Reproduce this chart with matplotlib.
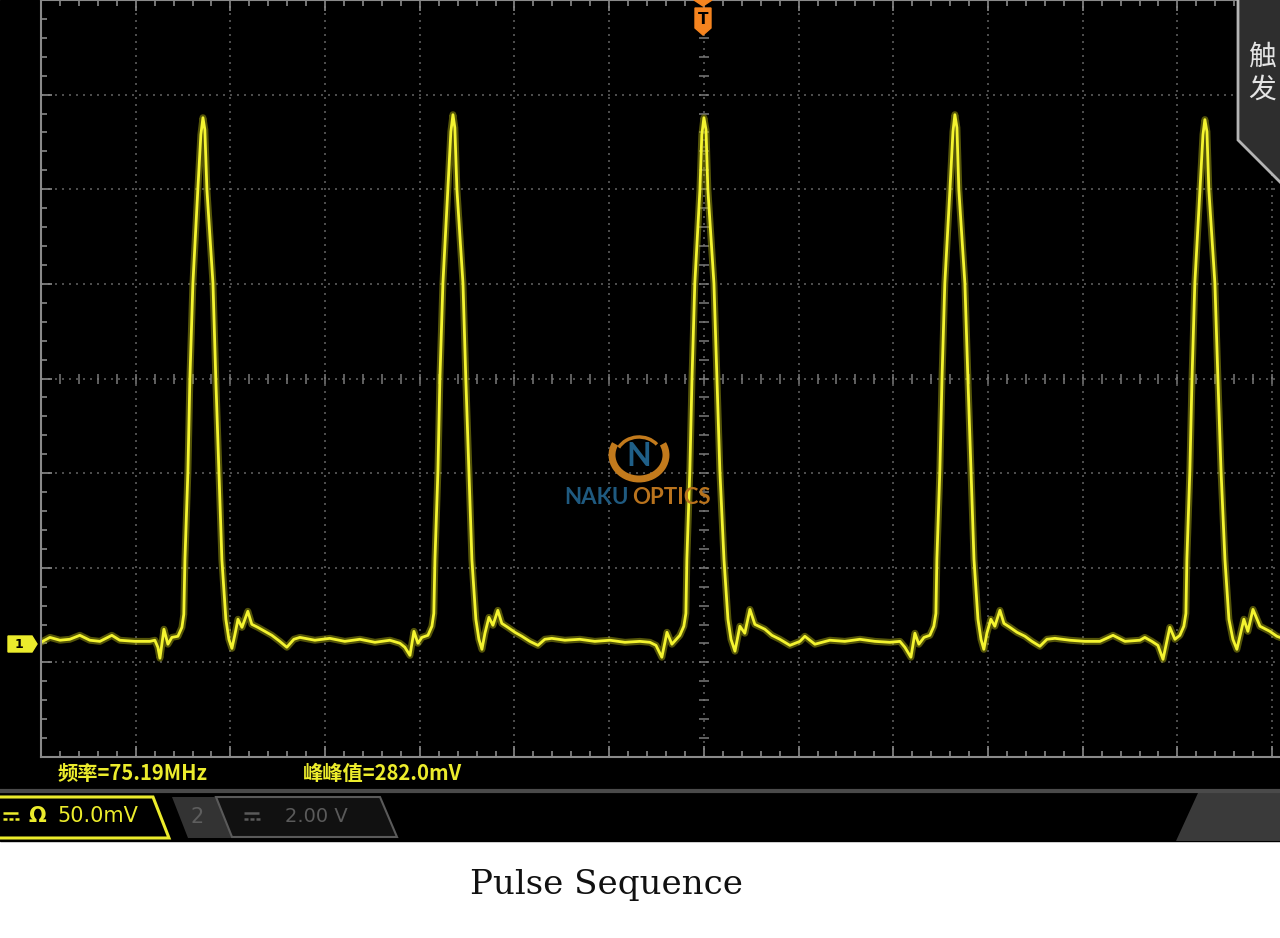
import numpy as np
import matplotlib.pyplot as plt
from matplotlib.patches import Polygon, Rectangle, Arc

# Channel 1 trace: time in ns (trigger at 0), voltage in mV
trace_t = [
    # baseline before pulse 1
    -35.01, -34.53, -34.00, -33.48, -32.95, -32.42, -31.89, -31.26, -30.84, -30.04,
    -29.25, -28.99, -28.83, -28.72, -28.51, -28.30, -28.09, -27.77, -27.56, -27.46,
    # pulse 1
    -27.40, -27.24, -27.14, -26.98, -26.72, -26.56, -26.45, -26.35, -26.24, -25.92,
    -25.77, -25.61, -25.45, -25.24, -25.08, -24.92, -24.76, -24.60, -24.39, -24.08,
    -23.87, -23.55, -23.18, -22.81, -22.39, -22.02, -21.65, -21.33,
    # baseline
    -20.54, -19.75, -18.96, -18.16, -17.37, -16.58, -16.05, -15.79, -15.52, -15.31,
    -15.10, -14.89, -14.57, -14.36, -14.26,
    # pulse 2
    -14.20, -14.04, -13.94, -13.78, -13.52, -13.36, -13.25, -13.15, -13.04, -12.72,
    -12.57, -12.41, -12.25, -12.04, -11.88, -11.72, -11.56, -11.35, -11.14, -10.88,
    -10.67, -10.35, -9.98, -9.61, -9.19, -8.76, -8.40, -8.03,
    # baseline
    -7.34, -6.55, -5.76, -4.96, -4.17, -3.38, -2.85, -2.53, -2.22, -1.95,
    -1.69, -1.27, -1.06, -0.95,
    # pulse 3 (trigger)
    -0.90, -0.74, -0.63, -0.48, -0.21, -0.11, 0.00, 0.11, 0.21, 0.53,
    0.69, 0.84, 1.06, 1.27, 1.43, 1.64, 1.90, 2.16, 2.43, 2.69,
    3.22, 3.59, 4.01, 4.54, 5.07, 5.33, 5.86,
    # baseline
    6.65, 7.44, 8.24, 9.03, 9.82, 10.35, 10.61, 10.93, 11.14, 11.35,
    11.62, 11.93, 12.14, 12.25,
    # pulse 4
    12.30, 12.46, 12.57, 12.72, 12.99, 13.15, 13.25, 13.36, 13.46, 13.78,
    13.94, 14.10, 14.26, 14.47, 14.63, 14.78, 14.94, 15.15, 15.36, 15.63,
    15.84, 16.16, 16.53, 16.95, 17.32, 17.74, 18.11, 18.53,
    # baseline
    19.32, 20.12, 20.91, 21.60, 22.23, 23.02, 23.28, 23.65, 23.97, 24.24,
    24.60, 24.87, 25.13, 25.34, 25.45,
    # pulse 5
    25.50, 25.66, 25.77, 25.92, 26.19, 26.35, 26.45, 26.56, 26.66, 26.98,
    27.14, 27.30, 27.51, 27.72, 27.93, 28.14, 28.51, 28.72, 28.99, 29.36,
    29.88, 30.25, 30.68,
]
trace_v = [
    -139.4, -136.8, -138.3, -137.8, -135.7, -138.3, -138.9, -135.7, -138.3, -138.9,
    -138.9, -138.3, -142.0, -147.8, -132.5, -140.4, -136.8, -136.2, -131.5, -124.6,
    -95.6, -48.0, -0.5, 50.2, 99.8, 128.8, 137.8, 131.5, 99.8, 50.2,
    -0.5, -48.0, -95.6, -127.2, -137.8, -142.6, -135.2, -127.2, -131.5, -123.0,
    -129.9, -131.5, -133.6, -135.7, -138.9, -142.0, -137.8, -136.8,
    -138.3, -137.3, -138.9, -137.8, -139.4, -138.3, -139.9, -142.0, -146.3, -133.6,
    -139.9, -136.8, -135.7, -130.9, -124.1,
    -95.6, -48.0, -0.5, 50.2, 99.8, 130.4, 139.4, 132.5, 99.8, 50.2,
    -0.5, -48.0, -95.6, -127.2, -137.8, -143.1, -134.6, -126.2, -130.4, -122.5,
    -129.4, -131.5, -134.1, -136.2, -138.9, -141.0, -137.8, -137.3,
    -138.3, -137.8, -138.9, -138.3, -139.4, -138.9, -139.4, -141.0, -147.3, -134.1,
    -140.4, -135.7, -130.9, -124.1,
    -95.6, -48.0, -0.5, 50.2, 99.8, 128.8, 137.8, 131.5, 99.8, 50.2,
    -0.5, -48.0, -95.6, -127.2, -137.8, -144.1, -130.9, -134.6, -122.0, -129.9,
    -132.5, -135.7, -137.8, -141.0, -138.9, -136.2, -140.4,
    -138.3, -138.9, -137.8, -138.9, -139.4, -138.9, -142.0, -147.3, -134.6, -140.4,
    -136.8, -135.7, -130.9, -124.1,
    -95.6, -48.0, -0.5, 50.2, 99.8, 130.4, 139.4, 132.5, 99.8, 50.2,
    -0.5, -48.0, -95.6, -127.2, -137.8, -143.1, -134.6, -127.2, -130.9, -122.5,
    -129.4, -131.5, -134.1, -136.2, -138.9, -141.5, -137.8, -137.3,
    -138.3, -138.9, -138.9, -135.7, -138.9, -138.3, -136.8, -138.9, -141.0, -148.4,
    -131.5, -137.8, -135.7, -130.9, -124.1,
    -95.6, -48.0, -0.5, 50.2, 99.8, 128.8, 136.8, 130.4, 99.8, 50.2,
    -0.5, -48.0, -95.6, -127.2, -137.8, -143.1, -127.2, -133.6, -122.0, -130.9,
    -133.6, -136.2, -137.8,
]

freq_label = '频率=75.19MHz'
vpp_label = '峰峰值=282.0mV'
ch1_scale = '50.0mV'
ch2_scale = '2.00 V'
trigger_tab = ['触', '发']
caption = 'Pulse Sequence'

CJK = ['Noto Sans CJK SC', 'DejaVu Sans']
YEL = '#ecec2c'
W, H = 1280, 938

fig = plt.figure(figsize=(12.8, 9.38), dpi=100, facecolor='white')

# background layer (pixel coordinates)
bg = fig.add_axes([0, 0, 1, 1], zorder=0)
bg.set_xlim(0, W)
bg.set_ylim(H, 0)
bg.axis('off')
bg.add_patch(Rectangle((0, 0), W, 841, color='black'))
bg.plot([0, W], [791, 791], color='#4a4a4a', lw=3, solid_capstyle='butt')

bg.text(58, 774, freq_label, color=YEL, fontsize=14.6, fontweight='bold',
        family=CJK, va='center', ha='left')
bg.text(303, 774, vpp_label, color=YEL, fontsize=14.6, fontweight='bold',
        family=CJK, va='center', ha='left')


def dc_symbol(x0, y0, color):
    # direct-current sign: solid bar over a dashed bar (no font has the glyph)
    bg.plot([x0, x0 + 15], [y0 - 3, y0 - 3], color=color, lw=1.8, solid_capstyle='butt')
    for k in range(3):
        bg.plot([x0 + k * 6, x0 + k * 6 + 3.5], [y0 + 3, y0 + 3], color=color, lw=1.8,
                solid_capstyle='butt')


# channel 1 box
bg.add_patch(Polygon([(-5, 797), (153, 797), (169, 838), (-5, 838)],
                     closed=True, facecolor='black', edgecolor=YEL, lw=2.2))
dc_symbol(3, 816, YEL)
bg.text(37, 816, 'Ω', color=YEL, fontsize=15, fontweight='bold', va='center', ha='center')
bg.text(57, 816, ch1_scale, color=YEL, fontsize=15, va='center', ha='left')

# channel 2 box (inactive)
bg.add_patch(Polygon([(172, 797), (216, 797), (232, 838), (188, 838)],
                     closed=True, facecolor='#333333', edgecolor='none'))
bg.text(197, 817, '2', color='#5e5e5e', fontsize=15, va='center', ha='center')
bg.add_patch(Polygon([(216, 797), (380, 797), (397, 837), (232, 837)],
                     closed=True, facecolor='#111111', edgecolor='#5a5a5a', lw=1.5))
dc_symbol(244, 816, '#5a5a5a')
bg.text(285, 816, ch2_scale, color='#5a5a5a', fontsize=14, va='center', ha='left')

bg.add_patch(Polygon([(1198, 793), (W, 793), (W, 841), (1176, 841)],
                     closed=True, facecolor='#3a3a3a', edgecolor='none'))

fig.text(606 / W, 1 - 885 / H, caption, ha='center', va='center',
         fontsize=24.5, family='DejaVu Serif', color='#111111')

# scope screen: 5 ns/div, 50 mV/div, 14 x 8 divisions
div_px = 94.7
ax = fig.add_axes([41 / W, 1 - 757 / H, 14 * div_px / W, 757 / H], zorder=1)
ax.set_facecolor('black')
ax.set_xlim(-35, 35)
ax.set_ylim(-200, 200)
ax.set_xticks(np.arange(-35, 36, 5))
ax.set_yticks(np.arange(-200, 201, 50))
ax.set_xticks(np.arange(-35, 36, 1), minor=True)
ax.set_yticks(np.arange(-200, 201, 10), minor=True)
ax.grid(True, which='major', color='#5c5c5c', ls=(0, (1.2, 3)), lw=1.2)
ax.tick_params(which='both', direction='in', colors='#8a8a8a', width=1.2,
               top=True, bottom=True, left=True, right=False,
               labelbottom=False, labelleft=False)
ax.tick_params(which='major', length=8)
ax.tick_params(which='minor', length=4.5)
for side in ['left', 'bottom', 'top']:
    ax.spines[side].set_color('#8a8a8a')
    ax.spines[side].set_linewidth(1.5)
ax.spines['right'].set_visible(False)

minor_t = np.arange(-35, 36, 1)
minor_v = np.arange(-200, 201, 10)
ax.plot(minor_t, np.zeros(len(minor_t)), ls='none', marker='|', ms=7,
        mew=1.1, color='#7a7a7a')
ax.plot(np.zeros(len(minor_v)), minor_v, ls='none', marker='_', ms=7,
        mew=1.1, color='#7a7a7a')

# trace with phosphor glow
ax.plot(trace_t, trace_v, color='#a8a810', lw=5, alpha=0.5,
        solid_joinstyle='round', solid_capstyle='round')
ax.plot(trace_t, trace_v, color='#f4f430', lw=2.0,
        solid_joinstyle='round', solid_capstyle='round')

# overlay layer: markers, trigger tab, watermark
ov = fig.add_axes([0, 0, 1, 1], zorder=3)
ov.set_xlim(0, W)
ov.set_ylim(H, 0)
ov.axis('off')
ov.patch.set_alpha(0)

ORANGE = '#f5841f'
ov.add_patch(Polygon([(694, 0), (712, 0), (703, 6)], closed=True, color=ORANGE))
ov.add_patch(Polygon([(695, 8), (711, 8), (711, 28), (703, 35), (695, 28)],
                     closed=True, color=ORANGE))
ov.text(703, 19, 'T', color='black', fontsize=11, fontweight='bold',
        ha='center', va='center')

ov.add_patch(Polygon([(8, 636), (32, 636), (37, 644), (32, 652), (8, 652)],
                     closed=True, color=YEL))
ov.text(19, 644, '1', color='black', fontsize=9, fontweight='bold',
        ha='center', va='center')

ov.add_patch(Polygon([(1238, -3), (1238, 140), (1283, 185), (1283, -3)],
                     closed=True, facecolor='#2e2e2e', edgecolor='#b4b4b4', lw=2))
ov.text(1262, 57, trigger_tab[0], color='#e4e4e4', fontsize=20, family=CJK,
        ha='center', va='center')
ov.text(1262, 90, trigger_tab[1], color='#e4e4e4', fontsize=20, family=CJK,
        ha='center', va='center')

# NAKUOPTICS watermark
ov.add_patch(Arc((639, 455), 54, 48, theta1=-25, theta2=205, color='#c27a1c', lw=5))
ov.add_patch(Arc((639, 457), 46, 40, theta1=205, theta2=325, color='#c27a1c', lw=2.5))
ov.text(639, 456, 'N', color='#1f5f88', fontsize=23, fontweight='bold',
        ha='center', va='center', family='Lato')
ov.text(629, 497, 'NAKU', color='#1f5a80', fontsize=16, fontweight='bold',
        ha='right', va='center', family='Lato')
ov.text(632, 497, 'OPTICS', color='#b9731d', fontsize=16, fontweight='bold',
        ha='left', va='center', family='Lato')

fig.savefig('out.png', dpi=100, facecolor=fig.get_facecolor())
